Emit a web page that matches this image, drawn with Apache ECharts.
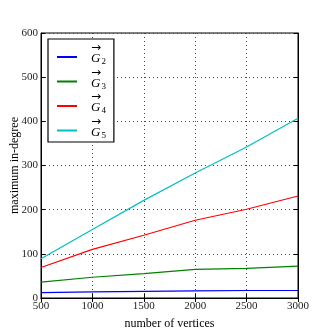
<!DOCTYPE html>
<html>
<head>
<meta charset="utf-8">
<script src="https://cdn.jsdelivr.net/npm/echarts@6/dist/echarts.min.js"></script>
<style>
  html, body { margin: 0; padding: 0; background: #fff; }
  #chart { width: 332px; height: 332px; }
</style>
</head>
<body>
<div id="chart"></div>
<script>
const vertices = [500, 1000, 1500, 2000, 2500, 3000]
const g2 = [12, 14, 15, 16, 17, 17]
const g3 = [36, 47, 55, 65, 67, 72]
const g4 = [69, 110, 142, 176, 201, 231]
const g5 = [89, 155, 221, 283, 342, 407]
const seriesNames = ['G2', 'G3', 'G4', 'G5']
const seriesColors = ['#0000ff', '#008000', '#ff0000', '#00bfbf']

const font = 'Liberation Serif'
const chart = echarts.init(document.getElementById('chart'))

const pairs = (ys) => vertices.map((x, i) => [x, ys[i]])
const tickStyle = { inside: true, length: 4, lineStyle: { color: '#000' } }
const dotted = { show: true, lineStyle: { color: '#444', type: [1, 3], width: 1 } }

chart.setOption({
  animation: false,
  textStyle: { fontFamily: font },
  grid: { left: 41, right: 34, top: 33, bottom: 34, outerBoundsMode: 'none', show: true, borderColor: '#000', borderWidth: 1 },
  legend: {
    orient: 'vertical',
    left: 48, top: 39,
    padding: [3, 8, 2, 9],
    itemGap: 0,
    itemWidth: 20, itemHeight: 2,
    icon: 'rect',
    borderColor: '#000', borderWidth: 1.2,
    backgroundColor: '#fff',
    formatter: (name) => '{a|\u2192}\n{g|G}{s|' + name.slice(1) + '}',
    textStyle: {
      padding: [0, 0, 3, 9],
      rich: {
        a: { fontFamily: 'DejaVu Sans', fontSize: 12, lineHeight: 7, color: '#000' },
        g: { fontFamily: font, fontStyle: 'italic', fontSize: 13, lineHeight: 14, color: '#000' },
        s: { fontFamily: font, fontSize: 9, color: '#000', padding: [6, 0, 0, 1] }
      }
    }
  },
  xAxis: [{
    type: 'value', min: 500, max: 3000, interval: 500,
    name: 'number of vertices', nameLocation: 'middle', nameGap: 20, nameMoveOverlap: false,
    nameTextStyle: { fontFamily: font, fontSize: 12, color: '#000' },
    axisLine: { lineStyle: { color: '#000' } },
    axisTick: tickStyle,
    axisLabel: { fontFamily: font, fontSize: 11, color: '#222', margin: 3, formatter: (v) => String(v) },
    splitLine: dotted
  }, {
    type: 'value', position: 'top', min: 500, max: 3000, interval: 500,
    axisLine: { show: true, lineStyle: { color: '#000' } },
    axisTick: tickStyle, axisLabel: { show: false }, splitLine: { show: false }
  }],
  yAxis: [{
    type: 'value', min: 0, max: 600, interval: 100,
    name: 'maximum in-degree', nameLocation: 'middle', nameGap: 20, nameMoveOverlap: false,
    nameTextStyle: { fontFamily: font, fontSize: 12, color: '#000' },
    axisLine: { show: true, lineStyle: { color: '#000' } },
    axisTick: tickStyle,
    axisLabel: { fontFamily: font, fontSize: 11, color: '#222', margin: 3 },
    splitLine: dotted
  }, {
    type: 'value', position: 'right', min: 0, max: 600, interval: 100,
    axisLine: { show: true, lineStyle: { color: '#000' } },
    axisTick: tickStyle, axisLabel: { show: false }, splitLine: { show: false }
  }],
  series: [g2, g3, g4, g5].map((ys, i) => ({
    name: seriesNames[i],
    type: 'line',
    data: pairs(ys),
    showSymbol: false,
    color: seriesColors[i],
    lineStyle: { width: 1.2, color: seriesColors[i] }
  }))
})
</script>
</body>
</html>
